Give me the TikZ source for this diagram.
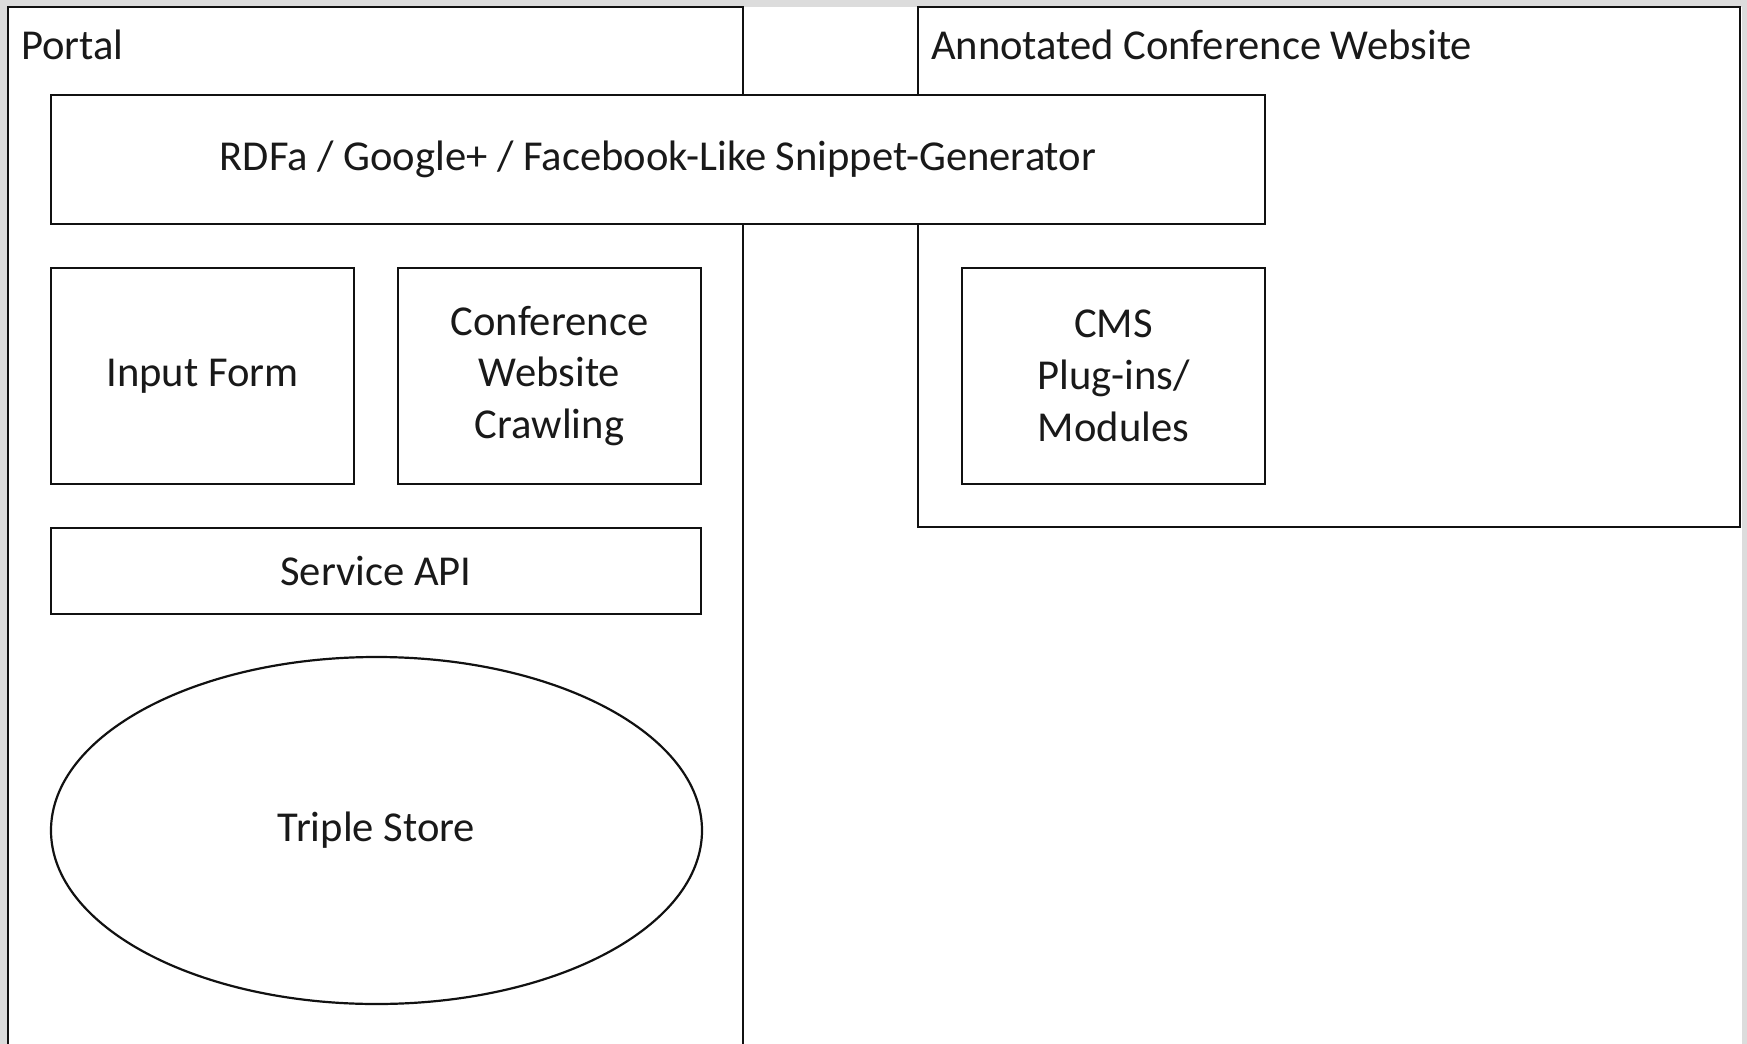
\documentclass[tikz,border=0pt]{standalone}
\usepackage{fontspec}
\setmainfont{Carlito}
\usetikzlibrary{shapes.geometric}
\definecolor{edgegrey}{HTML}{DCDCDC}
\definecolor{linecol}{HTML}{111111}
\begin{document}
\begin{tikzpicture}[x=0.5pt,y=-0.5pt,
  every node/.style={font=\fontsize{21.3pt}{25.9pt}\selectfont, text=black!90},
  frame/.style={draw=linecol, line width=1.2pt},
  compbox/.style={draw=linecol, line width=1.2pt, fill=white, rectangle, inner sep=0pt, align=center},
  storeshape/.style={draw=linecol, line width=1.1pt, fill=white, ellipse, inner sep=0pt}]
\useasboundingbox (0,0) rectangle (1747,1044);
\fill[edgegrey] (0,0) rectangle (1747,1044);
\fill[white] (8,7) rectangle (1742,1050);
% frames
\draw[frame] (8,1060) -- (8,7) -- (743,7) -- (743,1060);
\draw[frame] (918,7) rectangle (1740,527);
\node[anchor=base west] (portal) at (14,59) {Portal};
\node[anchor=base west] (acw) at (924,59) {Annotated Conference Website};
% components
\node[compbox, minimum width=607pt, minimum height=64.5pt] (snip) at (658,159.5) {RDFa / Google+ / Facebook-Like Snippet-Generator};
\node[compbox, minimum width=151.5pt, minimum height=108pt] (input) at (202.5,376) {Input Form};
\node[compbox, minimum width=151.5pt, minimum height=108pt] (crawl) at (549.5,376) {Conference\\Website\\Crawling};
\node[compbox, minimum width=151.5pt, minimum height=108pt] (cms) at (1113.5,376) {CMS\\Plug-ins/\\Modules};
\node[compbox, minimum width=325pt, minimum height=43pt] (api) at (376,571) {Service API};
\node[storeshape, minimum width=325.5pt, minimum height=173.5pt] (store) at (376.5,830.5) {Triple Store};
\end{tikzpicture}
\end{document}
